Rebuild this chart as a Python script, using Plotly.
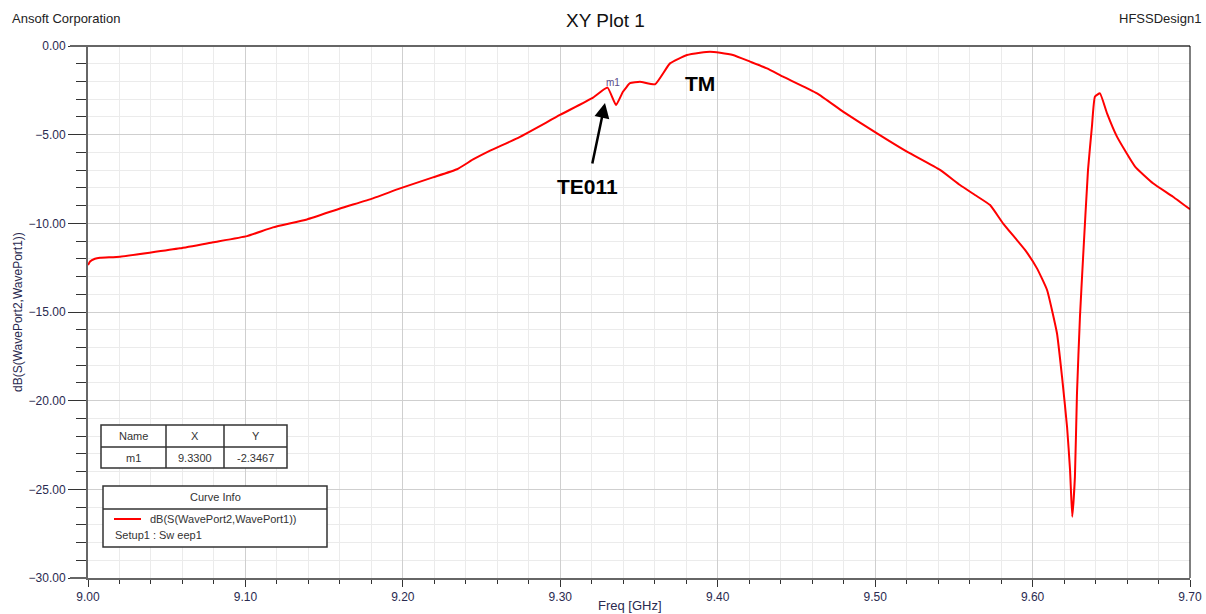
import plotly.graph_objects as go

# ---- data ----
freq_ghz = [9.0000, 9.0013, 9.0044, 9.0076, 9.0203, 9.0584, 9.0794, 9.1010, 9.1175,
            9.1391, 9.1601, 9.1810, 9.1982, 9.2191, 9.2344, 9.2446, 9.2554, 9.2725,
            9.2998, 9.3208, 9.3300, 9.3354, 9.3398, 9.3443, 9.3506, 9.3602, 9.3697,
            9.3805, 9.3888, 9.3951, 9.4015, 9.4097, 9.4205, 9.4313, 9.4415, 9.4631,
            9.4796, 9.5012, 9.5202, 9.5412, 9.5539, 9.5634, 9.5730, 9.5812, 9.5952,
            9.6028, 9.6092, 9.6155, 9.6187, 9.6219, 9.6238, 9.6252, 9.6269, 9.6282,
            9.6301, 9.6320, 9.6352, 9.6377, 9.6396, 9.6428, 9.6473, 9.6536, 9.6651,
            9.6765, 9.6892, 9.7000]
s21_db = [-12.35, -12.15, -12.00, -11.94, -11.88, -11.41, -11.07, -10.72, -10.23,
          -9.78, -9.16, -8.59, -8.03, -7.41, -6.95, -6.40, -5.90, -5.21,
          -3.89, -2.91, -2.3467, -3.33, -2.58, -2.10, -2.01, -2.16, -0.98,
          -0.51, -0.38, -0.32, -0.38, -0.51, -0.88, -1.26, -1.73, -2.67,
          -3.70, -4.93, -5.96, -6.99, -7.84, -8.40, -8.97, -10.00, -11.50,
          -12.54, -13.76, -16.20, -18.65, -21.47, -23.90, -26.55, -24.30, -19.60,
          -15.27, -12.07, -7.00, -4.55, -2.86, -2.67, -3.80, -5.11, -6.80,
          -7.74, -8.50, -9.21]

marker_name = "m1"
marker_x = 9.33
marker_y = -2.3467

trace_name = "dB(S(WavePort2,WavePort1))"
setup_name = "Setup1 : Sw eep1"

x_ticks = [9.00, 9.10, 9.20, 9.30, 9.40, 9.50, 9.60, 9.70]
y_ticks = [0, -5, -10, -15, -20, -25, -30]

# ---- layout geometry (pixels) ----
W, H = 1206, 614
L, R, T, B = 88, 1190, 46, 578
pw, ph = R - L, B - T


def px(x):
    return (x - L) / pw


def py(y):
    return (B - y) / ph


FONT = "Liberation Sans, Arial, sans-serif"

fig = go.Figure()
fig.add_trace(go.Scatter(x=freq_ghz, y=s21_db, mode="lines",
                         line=dict(color="#ff0000", width=2, shape="spline", smoothing=0.4),
                         name=trace_name, showlegend=False, hoverinfo="x+y"))

fig.update_layout(
    width=W, height=H, autosize=False,
    margin=dict(l=L, r=W - R, t=T, b=H - B, pad=0),
    paper_bgcolor="white", plot_bgcolor="white",
    font=dict(family=FONT, size=12, color="#222"),
    showlegend=False,
)

fig.update_xaxes(
    range=[9.0, 9.7], tickvals=x_ticks, tickformat=".2f", automargin=False,
    showgrid=True, gridcolor="#cfcfcf", gridwidth=1,
    showline=True, linecolor="#666", linewidth=2,
    ticks="outside", ticklen=7, tickcolor="#333", tickwidth=1,
    tickfont=dict(size=12, color="#2a2a50"),
    zeroline=False,
    minor=dict(dtick=0.02, showgrid=True, gridcolor="#ebebeb", gridwidth=1,
               ticks="outside", ticklen=4, tickcolor="#333"),
)
fig.update_yaxes(
    range=[-30, 0], tickvals=y_ticks, tickformat=".2f", automargin=False,
    showgrid=True, gridcolor="#cfcfcf", gridwidth=1,
    showline=True, linecolor="#666", linewidth=2,
    ticks="outside", ticklen=18, tickcolor="#333", tickwidth=1,
    tickfont=dict(size=12, color="#2a2a50"),
    zeroline=False,
    minor=dict(dtick=1, showgrid=True, gridcolor="#ebebeb", gridwidth=1,
               ticks="outside", ticklen=10, tickcolor="#333"),
)

shapes = []
# top border and right border
shapes.append(dict(type="line", xref="paper", yref="paper",
                   x0=px(70), x1=1, y0=1, y1=1, line=dict(color="#666", width=2)))
shapes.append(dict(type="line", xref="paper", yref="paper",
                   x0=px(70), x1=0, y0=0, y1=0, line=dict(color="#666", width=2)))
shapes.append(dict(type="line", xref="paper", yref="paper",
                   x0=1, x1=1, y0=0, y1=1, line=dict(color="#000", width=1)))

# marker table
tl, tr, tt, tb = 101, 287, 425, 468
tmid = 447
c1, c2 = 166, 224
shapes.append(dict(type="rect", xref="paper", yref="paper",
                   x0=px(tl), x1=px(tr), y0=py(tb), y1=py(tt),
                   fillcolor="white", line=dict(color="#333", width=1.5), layer="above"))
for cx in (c1, c2):
    shapes.append(dict(type="line", xref="paper", yref="paper",
                       x0=px(cx), x1=px(cx), y0=py(tb), y1=py(tt),
                       line=dict(color="#333", width=1.5), layer="above"))
shapes.append(dict(type="line", xref="paper", yref="paper",
                   x0=px(tl), x1=px(tr), y0=py(tmid), y1=py(tmid),
                   line=dict(color="#333", width=1.5), layer="above"))

# curve info box
bl, br, bt, bd, bb = 103, 327, 486, 509, 547
shapes.append(dict(type="rect", xref="paper", yref="paper",
                   x0=px(bl), x1=px(br), y0=py(bb), y1=py(bt),
                   fillcolor="white", line=dict(color="#333", width=1.5), layer="above"))
shapes.append(dict(type="line", xref="paper", yref="paper",
                   x0=px(bl), x1=px(br), y0=py(bd), y1=py(bd),
                   line=dict(color="#333", width=1.5), layer="above"))
shapes.append(dict(type="line", xref="paper", yref="paper",
                   x0=px(114), x1=px(141), y0=py(519), y1=py(519),
                   line=dict(color="#ff0000", width=2), layer="above"))

fig.update_layout(shapes=shapes)

ann = []


def txt(text, x, y, size=12, color="#222", xanchor="center", bold=False, angle=0):
    ann.append(dict(text=f"<b>{text}</b>" if bold else text,
                    xref="paper", yref="paper", x=px(x), y=py(y),
                    xanchor=xanchor, yanchor="middle", showarrow=False,
                    textangle=angle, borderpad=0,
                    font=dict(family=FONT, size=size, color=color)))


txt("Ansoft Corporation", 11, 18, size=13, xanchor="left")
txt("XY Plot 1", 605, 21, size=19, color="#111")
txt("HFSSDesign1", 1202, 18, size=13, xanchor="right")
txt("Freq [GHz]", 630, 605, size=13, color="#2a2a50")
txt("dB(S(WavePort2,WavePort1))", 18, 312, size=12, color="#2a2a50", angle=-90)

# table text
txt("Name", (tl + c1) / 2, (tt + tmid) / 2, size=11, color="#333")
txt("X", (c1 + c2) / 2, (tt + tmid) / 2, size=11, color="#333")
txt("Y", (c2 + tr) / 2, (tt + tmid) / 2, size=11, color="#333")
txt(marker_name, (tl + c1) / 2, (tmid + tb) / 2, size=11, color="#333")
txt(f"{marker_x:.4f}", (c1 + c2) / 2, (tmid + tb) / 2, size=11, color="#333")
txt(f"{marker_y:.4f}", (c2 + tr) / 2, (tmid + tb) / 2, size=11, color="#333")

# curve info text
txt("Curve Info", 215, 497, size=11, color="#333")
txt(trace_name, 149, 519, size=11, color="#333", xanchor="left")
txt(setup_name, 114, 535, size=11, color="#333", xanchor="left")

# data-coordinate annotations
ann.append(dict(text=marker_name, x=marker_x + 0.0035, y=-2.07,
                xref="x", yref="y", showarrow=False, yanchor="middle",
                font=dict(family=FONT, size=10, color="#5a4a8a")))
ann.append(dict(text="<b>TE011</b>", x=9.3176, y=-7.95, xref="x", yref="y",
                showarrow=False, font=dict(family=FONT, size=21, color="#000")))
ann.append(dict(text="<b>TM</b>", x=9.3888, y=-2.09, xref="x", yref="y",
                showarrow=False, font=dict(family=FONT, size=21, color="#000")))
ann.append(dict(text="", x=9.3284, y=-3.21, xref="x", yref="y",
                showarrow=True, ax=-13, ay=62, axref="pixel", ayref="pixel",
                arrowhead=2, arrowsize=1.2, arrowwidth=2.5, arrowcolor="#000"))

fig.update_layout(annotations=ann)

fig.write_html(
    "out.html",
    config={"displayModeBar": False, "responsive": False},
    post_script="document.body.style.margin='0';document.body.style.padding='0';"
                "document.body.style.overflow='hidden';",
)
